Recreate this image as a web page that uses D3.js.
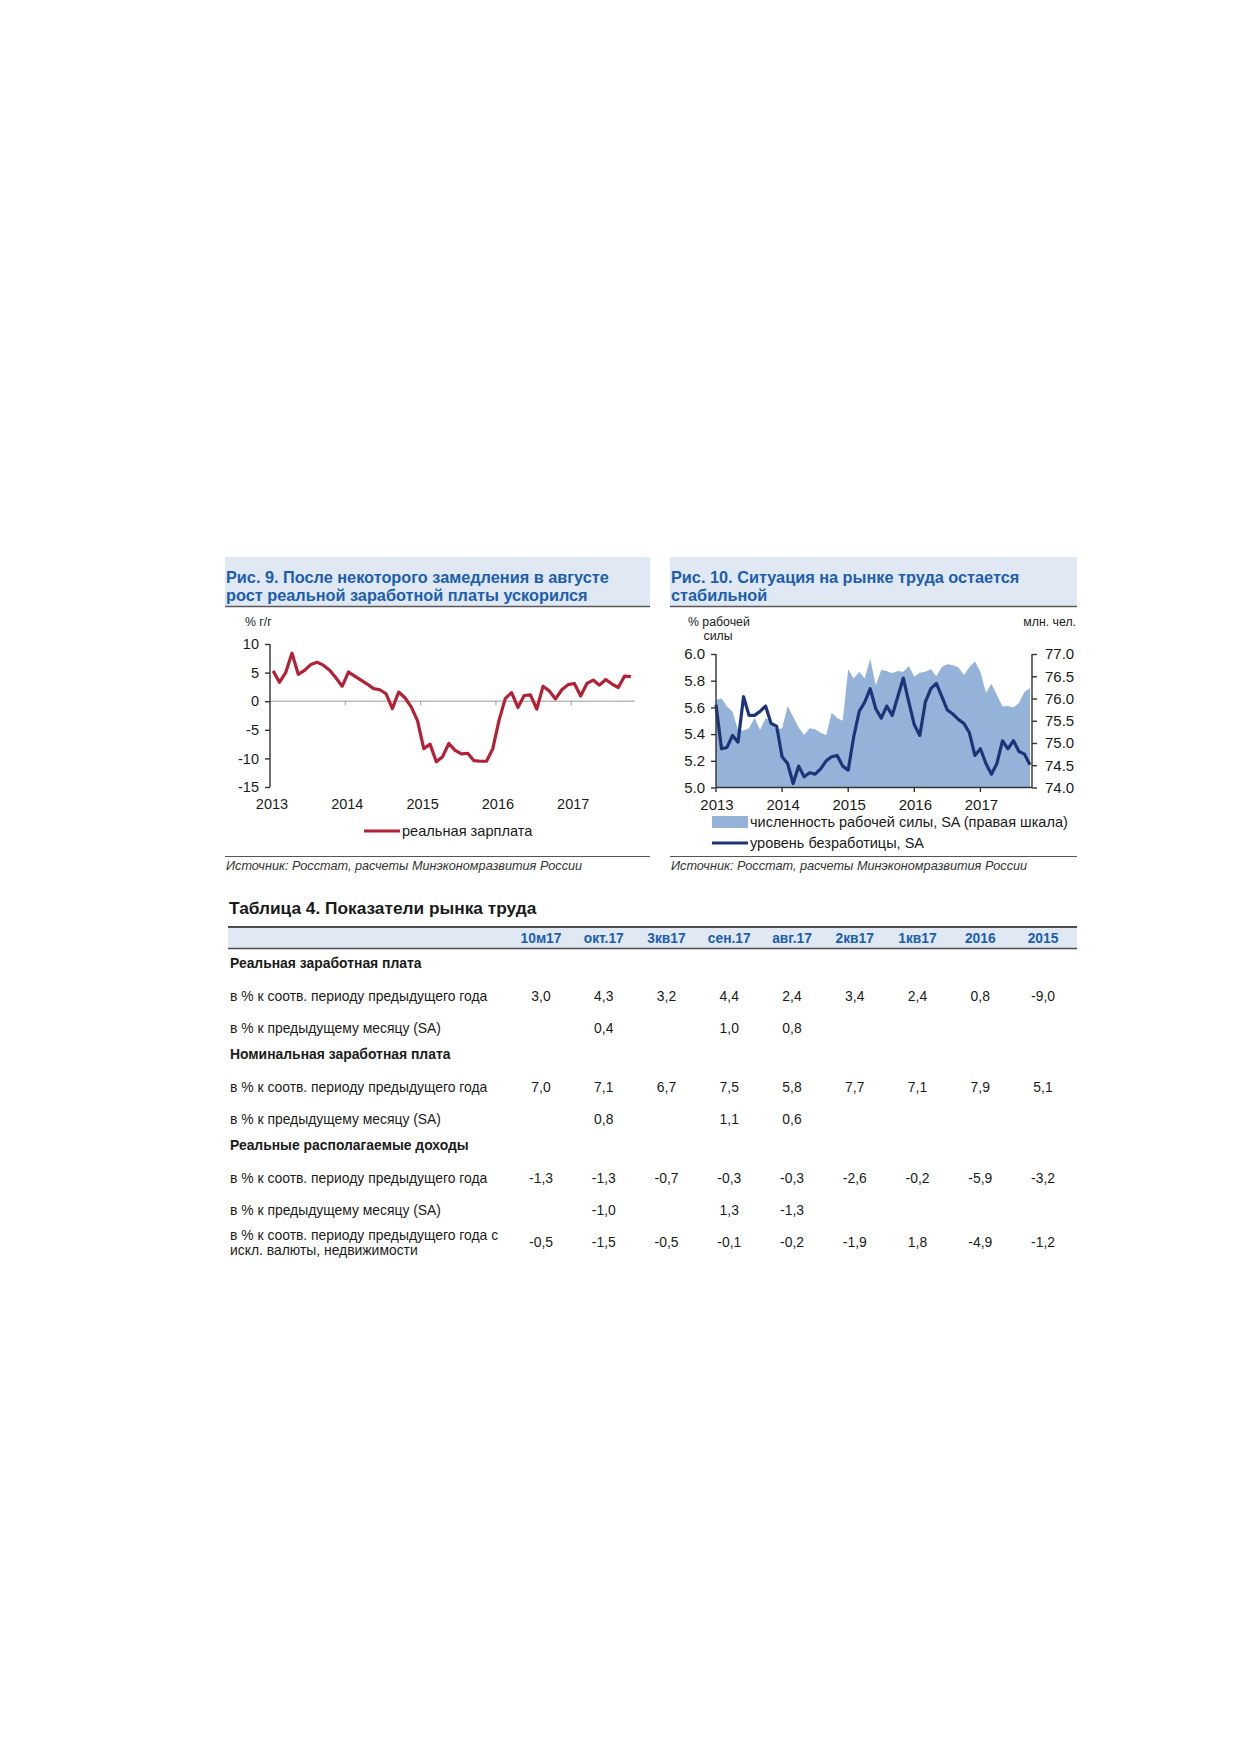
<!DOCTYPE html>
<html>
<head>
<meta charset="utf-8">
<script src="https://cdn.jsdelivr.net/npm/d3@7"></script>
<style>
    body { margin: 0; background: #fff; }
    svg text { font-family: "Liberation Sans", Arial, sans-serif; fill: #1a1a1a; }
</style>
</head>
<body>
<svg id="page" width="1239" height="1752"></svg>
<script>
// monthly categories, Jan 2013 - Oct 2017
const months = d3.timeMonth.range(new Date(2013, 0, 1), new Date(2017, 10, 1));
const yearTicks = [2013, 2014, 2015, 2016, 2017];

// Рис. 9 - реальная зарплата, % г/г
const realWage = [
    5.3, 3.3, 5.0, 8.4, 4.7, 5.4, 6.4, 6.8, 6.3, 5.4, 4.1, 2.6,
    5.1, 4.4, 3.7, 3.0, 2.2, 2.0, 1.3, -1.3, 1.6, 0.6, -1.0, -3.4,
    -8.3, -7.5, -10.6, -9.7, -7.4, -8.6, -9.2, -9.1, -10.4, -10.5, -10.5, -8.3,
    -3.3, 0.5, 1.5, -1.1, 1.0, 1.1, -1.4, 2.6, 1.8, 0.4, 2.0, 2.9,
    3.1, 0.9, 3.1, 3.7, 2.8, 3.8, 3.0, 2.4, 4.4, 4.3
];
const wageTicks = [10, 5, 0, -5, -10, -15];

// Рис. 10 - уровень безработицы (%), численность рабочей силы (млн чел.)
const unemployment = [
    5.62, 5.29, 5.30, 5.39, 5.34, 5.68, 5.54, 5.54, 5.57, 5.61, 5.48, 5.46,
    5.23, 5.18, 5.03, 5.16, 5.08, 5.11, 5.10, 5.14, 5.20, 5.23, 5.24, 5.16,
    5.13, 5.38, 5.57, 5.64, 5.74, 5.59, 5.52, 5.61, 5.54, 5.68, 5.82, 5.64,
    5.47, 5.39, 5.64, 5.74, 5.78, 5.68, 5.58, 5.55, 5.51, 5.48, 5.41, 5.24,
    5.29, 5.18, 5.10, 5.18, 5.35, 5.29, 5.35, 5.27, 5.25, 5.17
];
const laborForce = [
    75.97, 76.00, 75.82, 75.70, 75.29, 75.28, 75.33, 75.56, 75.29, 75.56, 75.48, 75.31,
    75.33, 75.83, 75.59, 75.35, 75.18, 75.33, 75.31, 75.23, 75.18, 75.68, 75.56, 75.50,
    76.66, 76.45, 76.60, 76.45, 76.90, 76.30, 76.64, 76.62, 76.57, 76.62, 76.60, 76.73,
    76.49, 76.58, 76.60, 76.66, 76.50, 76.71, 76.77, 76.75, 76.70, 76.53, 76.71, 76.83,
    76.60, 76.13, 76.33, 76.08, 75.82, 75.83, 75.80, 75.90, 76.15, 76.23
];
const unempTicks = [5.0, 5.2, 5.4, 5.6, 5.8, 6.0];
const laborTicks = [74.0, 74.5, 75.0, 75.5, 76.0, 76.5, 77.0];

// Таблица 4
const tableCols = ["10м17", "окт.17", "3кв17", "сен.17", "авг.17", "2кв17", "1кв17", "2016", "2015"];
const sections = ["Реальная заработная плата", "Номинальная заработная плата", "Реальные располагаемые доходы"];
const rowLabels = [
    ["в % к соотв. периоду предыдущего года"],
    ["в % к предыдущему месяцу (SA)"],
    ["в % к соотв. периоду предыдущего года"],
    ["в % к предыдущему месяцу (SA)"],
    ["в % к соотв. периоду предыдущего года"],
    ["в % к предыдущему месяцу (SA)"],
    ["в % к соотв. периоду предыдущего года с", "искл. валюты, недвижимости"]
];
const rowSection = [0, 0, 1, 1, 2, 2, 2];
const rowValues = [
    ["3,0", "4,3", "3,2", "4,4", "2,4", "3,4", "2,4", "0,8", "-9,0"],
    ["", "0,4", "", "1,0", "0,8", "", "", "", ""],
    ["7,0", "7,1", "6,7", "7,5", "5,8", "7,7", "7,1", "7,9", "5,1"],
    ["", "0,8", "", "1,1", "0,6", "", "", "", ""],
    ["-1,3", "-1,3", "-0,7", "-0,3", "-0,3", "-2,6", "-0,2", "-5,9", "-3,2"],
    ["", "-1,0", "", "1,3", "-1,3", "", "", "", ""],
    ["-0,5", "-1,5", "-0,5", "-0,1", "-0,2", "-1,9", "1,8", "-4,9", "-1,2"]
];

const blue = "#1c5eab";
const boxFill = "#dfe8f3";
const svg = d3.select("#page");

function titleBox(x0, x1, lines)
{
    svg.append("rect")
        .attr("x", x0).attr("y", 557)
        .attr("width", x1 - x0).attr("height", 49)
        .attr("fill", boxFill);
    svg.append("line")
        .attr("x1", x0).attr("x2", x1)
        .attr("y1", 606.5).attr("y2", 606.5)
        .attr("stroke", "#5a5a5a").attr("stroke-width", 1.6);
    lines.forEach((t, i) => {
        svg.append("text")
            .attr("x", x0 + 1).attr("y", 583 + i * 18)
            .attr("font-size", 16.3).attr("font-weight", "bold")
            .style("fill", blue)
            .text(t);
    });
}

function sourceLine(x0, x1)
{
    svg.append("line")
        .attr("x1", x0).attr("x2", x1)
        .attr("y1", 856.5).attr("y2", 856.5)
        .attr("stroke", "#555").attr("stroke-width", 1);
    svg.append("text")
        .attr("x", x0 + 1).attr("y", 870)
        .attr("font-size", 12.7).attr("font-style", "italic")
        .style("fill", "#333")
        .text("Источник: Росстат, расчеты Минэкономразвития России");
}

// ---------- Рис. 9 ----------
titleBox(225, 650, ["Рис. 9. После некоторого замедления в августе", "рост реальной заработной платы ускорился"]);
sourceLine(225, 650);

let x9 = d3.scaleBand()
    .domain(months.map((d, i) => i))
    .range([270, 634]);

let y9 = d3.scaleLinear()
    .domain([-15, 10])
    .range([787, 644]);

let g9 = svg.append("g");

g9.append("text")
    .attr("x", 245).attr("y", 626)
    .attr("font-size", 12.3)
    .text("% г/г");

// zero line with year ticks
g9.append("line")
    .attr("x1", 270).attr("x2", 635)
    .attr("y1", y9(0)).attr("y2", y9(0))
    .attr("stroke", "#9a9a9a").attr("stroke-width", 1);

yearTicks.slice(1).forEach((yr) => {
    let xt = x9((yr - 2013) * 12);
    g9.append("line")
        .attr("x1", xt).attr("x2", xt)
        .attr("y1", y9(0)).attr("y2", y9(0) + 4)
        .attr("stroke", "#9a9a9a");
});

//y axis
let yAxis9 = g9.append("g")
    .attr("transform", "translate(270,0)")
    .call(d3.axisLeft(y9).tickValues(wageTicks).tickFormat((d) => String(d)).tickSize(5).tickPadding(6));
yAxis9.select(".domain").attr("stroke", "#333").attr("stroke-width", 1.4).attr("d", "M0," + y9(10) + "V" + y9(-15));
yAxis9.selectAll(".tick line").attr("stroke", "#333").attr("stroke-width", 1.4);
yAxis9.selectAll(".tick text").attr("font-size", 14.5).style("fill", "#1a1a1a")
    .attr("font-family", null);

//year labels
g9.selectAll(".yr9")
    .data(yearTicks)
    .enter().append("text")
    .attr("x", (d) => { return x9((d - 2013) * 12) + 2; })
    .attr("y", 809)
    .attr("text-anchor", "middle")
    .attr("font-size", 14.5)
    .text((d) => { return d; });

let line9 = d3.line()
    .x((d, i) => { return x9(i) + x9.bandwidth() / 2; })
    .y((d) => { return y9(d); });

g9.append("path")
    .datum(realWage)
    .attr("d", line9)
    .attr("fill", "none")
    .attr("stroke", "#b42136")
    .attr("stroke-width", 3.2)
    .attr("stroke-linejoin", "round");

// legend
g9.append("line")
    .attr("x1", 364).attr("x2", 400)
    .attr("y1", 831).attr("y2", 831)
    .attr("stroke", "#b42136").attr("stroke-width", 3);
g9.append("text")
    .attr("x", 402).attr("y", 836)
    .attr("font-size", 14.6)
    .text("реальная зарплата");

// ---------- Рис. 10 ----------
titleBox(670, 1077, ["Рис. 10. Ситуация на рынке труда остается", "стабильной"]);
sourceLine(670, 1077);

let x10 = d3.scalePoint()
    .domain(months.map((d, i) => i))
    .range([716, 1030]);

let yL = d3.scaleLinear().domain([5.0, 6.0]).range([787.5, 654]);
let yR = d3.scaleLinear().domain([74.0, 77.0]).range([787.5, 654]);

let g10 = svg.append("g");

g10.append("text")
    .attr("x", 688).attr("y", 626)
    .attr("font-size", 12.3)
    .text("% рабочей");
g10.append("text")
    .attr("x", 718).attr("y", 640)
    .attr("font-size", 12.3)
    .attr("text-anchor", "middle")
    .text("силы");
g10.append("text")
    .attr("x", 1076).attr("y", 626)
    .attr("font-size", 12.3)
    .attr("text-anchor", "end")
    .text("млн. чел.");

let area10 = d3.area()
    .x((d, i) => { return x10(i); })
    .y0(yR(74.0))
    .y1((d) => { return yR(d); });

g10.append("path")
    .datum(laborForce)
    .attr("d", area10)
    .attr("fill", "#95b3d8");

let line10 = d3.line()
    .x((d, i) => { return x10(i); })
    .y((d) => { return yL(d); });

g10.append("path")
    .datum(unemployment)
    .attr("d", line10)
    .attr("fill", "none")
    .attr("stroke", "#1d3479")
    .attr("stroke-width", 3.2)
    .attr("stroke-linejoin", "round");

//left axis
let yAxisL = g10.append("g")
    .attr("transform", "translate(716,0)")
    .call(d3.axisLeft(yL).tickValues(unempTicks).tickFormat(d3.format(".1f")).tickSize(5).tickPadding(6));
//right axis
let yAxisR = g10.append("g")
    .attr("transform", "translate(1032,0)")
    .call(d3.axisRight(yR).tickValues(laborTicks).tickFormat(d3.format(".1f")).tickSize(5).tickPadding(8));

[yAxisL, yAxisR].forEach((a) => {
    a.select(".domain").attr("stroke", "#333").attr("stroke-width", 1.4).attr("d", "M0,654V787.5");
    a.selectAll(".tick line").attr("stroke", "#333").attr("stroke-width", 1.4);
    a.selectAll(".tick text").attr("font-size", 15).style("fill", "#1a1a1a").attr("font-family", null);
});

//bottom axis
g10.append("line")
    .attr("x1", 716).attr("x2", 1032)
    .attr("y1", 787.5).attr("y2", 787.5)
    .attr("stroke", "#333").attr("stroke-width", 1.4);

yearTicks.forEach((yr) => {
    let xt = x10((yr - 2013) * 12);
    g10.append("line")
        .attr("x1", xt).attr("x2", xt)
        .attr("y1", 787.5).attr("y2", 792)
        .attr("stroke", "#333").attr("stroke-width", 1.4);
});

g10.selectAll(".yr10")
    .data(yearTicks)
    .enter().append("text")
    .attr("x", (d) => { return x10((d - 2013) * 12) + 1; })
    .attr("y", 810)
    .attr("text-anchor", "middle")
    .attr("font-size", 15)
    .text((d) => { return d; });

// legend
g10.append("rect")
    .attr("x", 712).attr("y", 816)
    .attr("width", 36).attr("height", 12)
    .attr("fill", "#95b3d8");
g10.append("text")
    .attr("x", 750).attr("y", 827)
    .attr("font-size", 14.5)
    .text("численность рабочей силы, SA (правая шкала)");
g10.append("line")
    .attr("x1", 712).attr("x2", 748)
    .attr("y1", 843).attr("y2", 843)
    .attr("stroke", "#1d3479").attr("stroke-width", 3);
g10.append("text")
    .attr("x", 750).attr("y", 848)
    .attr("font-size", 14.5)
    .text("уровень безработицы, SA");

// ---------- Таблица 4 ----------
let gt = svg.append("g");

gt.append("text")
    .attr("x", 229).attr("y", 914)
    .attr("font-size", 17.3).attr("font-weight", "bold")
    .text("Таблица 4. Показатели рынка труда");

gt.append("rect")
    .attr("x", 228).attr("y", 927)
    .attr("width", 849).attr("height", 21)
    .attr("fill", boxFill);
gt.append("line")
    .attr("x1", 228).attr("x2", 1077)
    .attr("y1", 927).attr("y2", 927)
    .attr("stroke", "#4d4d4d").attr("stroke-width", 2);
gt.append("line")
    .attr("x1", 228).attr("x2", 1077)
    .attr("y1", 948.5).attr("y2", 948.5)
    .attr("stroke", "#4d4d4d").attr("stroke-width", 1.5);

let xc = d3.scalePoint()
    .domain(tableCols)
    .range([541, 1043]);

gt.selectAll(".hdr")
    .data(tableCols)
    .enter().append("text")
    .attr("x", (d) => { return xc(d); })
    .attr("y", 943)
    .attr("text-anchor", "middle")
    .attr("font-size", 13.8).attr("font-weight", "bold")
    .style("fill", blue)
    .text((d) => { return d; });

let yy = 963;
let prevSection = -1;
rowLabels.forEach((lab, r) => {
    if (rowSection[r] !== prevSection) {
        if (prevSection >= 0) yy += 26;
        prevSection = rowSection[r];
        gt.append("text")
            .attr("x", 230).attr("y", yy + 5)
            .attr("font-size", 13.9).attr("font-weight", "bold")
            .text(sections[rowSection[r]]);
        yy += 33;
    } else {
        yy += 32;
    }
    let rowY = yy;
    lab.forEach((t, k) => {
        gt.append("text")
            .attr("x", 230)
            .attr("y", rowY + 5 + (k - (lab.length - 1) / 2) * 15)
            .attr("font-size", 13.9)
            .text(t);
    });
    gt.selectAll(".v" + r)
        .data(rowValues[r])
        .enter().append("text")
        .attr("x", (d, i) => { return xc(tableCols[i]); })
        .attr("y", rowY + 5)
        .attr("text-anchor", "middle")
        .attr("font-size", 13.9)
        .text((d) => { return d; });
});
</script>
</body>
</html>
